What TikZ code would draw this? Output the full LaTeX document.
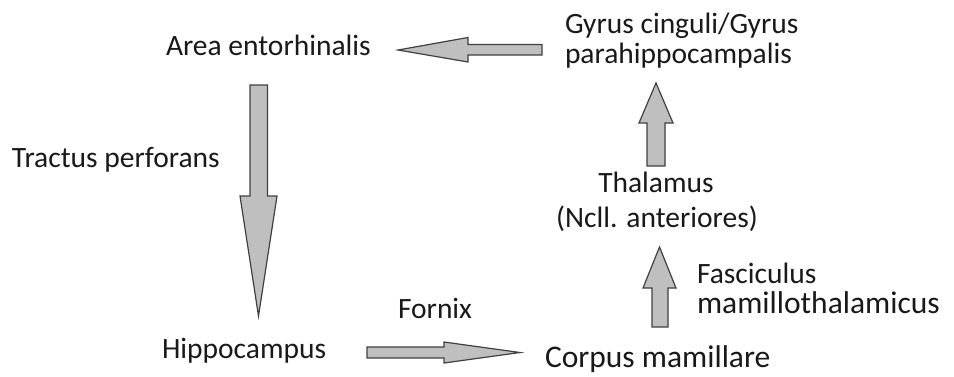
\documentclass[tikz,border=0pt]{standalone}
\usepackage{fontspec}
\setmainfont{Carlito}
\begin{document}
\begin{tikzpicture}[x=1pt,y=-1pt,
  lbl/.style={anchor=base west,inner sep=0pt,outer sep=0pt,font=\fontsize{29.5}{31}\selectfont,text=black!90},
  lblbig/.style={lbl,font=\fontsize{31.5}{33}\selectfont},
  blockarr/.style={fill=black!25,draw=black!75,line width=1.2pt,line join=miter}]
\useasboundingbox (0,0) rectangle (954,376);
% texts
\node[lbl] (area) at (166,55) {Area entorhinalis};
\node[lbl] (gyrus) at (565,33) {Gyrus cinguli/Gyrus};
\node[lbl] (gyrus2) at (565,63) {parahippocampalis};
\node[lbl] (tractus) at (12,167) {Tractus perforans};
\node[lbl,anchor=base] (thal) at (656,192) {Thalamus};
\node[lbl,anchor=base] (thal2) at (657,227) {(Ncll. anteriores)};
\node[lbl] (fasc) at (697,283) {Fasciculus};
\node[lblbig] (fasc2) at (697,313) {mamillothalamicus};
\node[lbl] (fornix) at (398,318) {Fornix};
\node[lbl] (hippo) at (162,358) {Hippocampus};
\node[lblbig] (corpus) at (545,367) {Corpus mamillare};
% arrow anchor coordinates
\coordinate (a1s) at (542,50);  \coordinate (a1t) at (398,50);
\coordinate (a2s) at (258.5,85); \coordinate (a2t) at (258.5,316);
\coordinate (a3s) at (367,352.5); \coordinate (a3t) at (520,352.5);
\coordinate (a4s) at (660,327); \coordinate (a4t) at (659.5,247);
\coordinate (a5s) at (656,166); \coordinate (a5t) at (656,83);
% gyrus -> area
\draw[blockarr] (a1s) ++(0,-5.5) -- ++(-74,0) -- ++(0,-7) -- (a1t) -- ++(70,12) -- ++(0,-7) -- ++(74,0) -- cycle;
% area -> hippocampus (tractus perforans)
\draw[blockarr] (a2s) ++(-8.5,0) -- ++(0,111) -- ++(-10,0) -- (a2t) -- ++(18.5,-120) -- ++(-9.5,0) -- ++(0,-111) -- cycle;
% hippocampus -> corpus (fornix)
\draw[blockarr] (a3s) ++(0,-5.5) -- ++(77,0) -- ++(0,-5) -- (a3t) -- ++(-76,10.5) -- ++(0,-5) -- ++(-77,0) -- cycle;
% corpus -> thalamus
\draw[blockarr] (a4s) ++(-8,0) -- ++(0,-39) -- ++(-9,0) -- (a4t) -- ++(16.5,41) -- ++(-8,0) -- ++(0,39) -- cycle;
% thalamus -> gyrus
\draw[blockarr] (a5s) ++(-9,0) -- ++(0,-43) -- ++(-8,0) -- (a5t) -- ++(17,40) -- ++(-8,0) -- ++(0,43) -- cycle;
\end{tikzpicture}
\end{document}
